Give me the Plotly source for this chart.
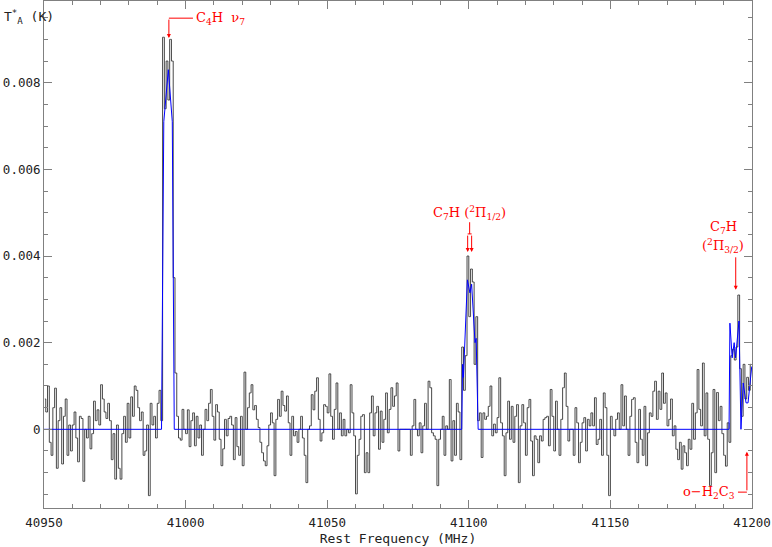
import numpy as np
import plotly.graph_objects as go

# ---------------- data (antenna temperature in mK) ----------------
f_start = 40950.0          # MHz, first channel edge
chan_width = 0.625         # MHz

seg_a = [0.7, 0.4, 1.0, -0.3, -0.6, 0.5, 0.95, -0.9, 0.2, 0.5,
         -0.8, 0.3, 0.7, -0.6, 0.1, -0.5, 0.1, 0.4, -0.2, -0.75,
         0.3, 0.25, -1.2, 0.0, -0.2, 0.3, -0.45, -0.1, 0.65, 0.2,
         0.45, 0.1, 1.03, 0.7, 0.4, 0.25, 0.6, 0.2, -0.7, -0.1,
         -1.15, 0.1, -0.9, -1.15, -0.1, 0.3, -0.3, 0.6, -0.2, 0.75,
         0.3, 1.0, 0.9, 0.5, 0.2, 0.4, -0.6, -0.5, 0.1, -1.53,
         0.6, 0.1, 0.3, -0.2, 0.6, 0.9, 0.2]
seg_c4h = [9.05, 7.4, 8.5, 7.6, 9.0, 8.5, 3.5, 1.3]
seg_b = [0.3, -0.2, -0.25, 0.46, 0.0, -0.1, 0.45, -0.4, 0.2, 0.38,
         -0.38, 0.3, -0.2, 0.1, -0.6, 0.0, 0.46, 0.2, 0.6, 0.92,
         0.3, -0.25, 0.57, 0.4, -0.23, -0.84, -0.45, 0.23, -0.15, 0.25,
         0.3, 0.1, -0.7, 0.27, -0.4, -0.6]
seg_c = [0.3, -0.84, 1.32, 0.0, 0.5, 0.84, 1.03, 0.45, 0.55, 0.23,
         0.04, -0.3, -0.54, -0.73, -0.84, -0.38, 0.1, 0.38, 0.15, -1.07,
         0.23, 0.69, 0.3, 0.88, 0.55, 0.42, 0.77, 0.15, -0.6, 0.3,
         -0.15, -0.05, -0.3, 0.0, 0.3, -0.2, -0.6, -1.23, 0.0, 0.08,
         0.8, 0.45, 0.88, 1.19, 0.23, -0.27, -0.08, 0.57, 0.53, 0.38,
         1.28, 0.3, -0.23, 0.46, 1.07, 0.0, 0.38, -0.15, 0.23, -0.15,
         0.0, -0.08, 1.03, 0.38, -0.15, -1.49, -0.6, -0.23, 0.3, 0.34,
         -1.0, -0.54, -1.0, 0.38, 0.77, -0.15, 0.38, 0.53, -0.46, 0.42,
         -0.3, 0.23, 0.84, -0.08, 0.46, 0.96, 0.53, 0.77, 1.07, -0.5,
         0.0, 0.0, 0.0, 0.0, 0.0, 0.0, -0.6, 0.08, 0.69, 0.0,
         -0.15, 0.15, -0.54, 0.08, 0.6, 0.0, 1.11, 0.96, -0.08, -0.15,
         -0.23, -1.3, -0.23, 0.0, 0.3, -0.6, 0.08, 0.0, 1.15]
seg_d = [-0.73, 0.2, -0.6, 0.6, 0.4, -0.7]
seg_c7h_a = [1.9, 0.9, 1.7, 4.0, 2.6, 3.7, 3.4, 1.5, 2.6, 0.2]
seg_e = [0.38, -0.65, 0.38, 0.23, 0.3, 0.53, 1.0, -0.15, 0.12, -0.08,
         0.27, 1.19, 0.15, -0.15, -1.07, -0.08, 0.65, -0.23, 0.53, -0.3,
         0.3, 0.57, -1.23, 0.08, 0.57, 0.15, -0.6, 0.5, 0.69, -0.27,
         -1.07, -0.15, -0.23, -0.77, -0.15, -0.27, 0.23, 0.27, 0.3, -0.38,
         0.92, 0.3, -0.5, 0.65, 0.0, -0.6, 0.23, 0.96, 1.3, 0.53,
         -0.27, 0.0, 0.0, -0.6, 0.5, 0.15, -0.77, -0.3, 0.15, 0.27,
         -0.5, 0.23, 0.08, 0.38, 0.08, 0.73, -0.35, -0.23, 0.23, -0.6,
         0.84, 0.5, -0.6, -1.53, 0.3, 0.0, -0.15, 0.23, 0.38, 0.0,
         1.03, 0.08, 0.77, 0.0, -0.6, 0.3, 0.69, 0.73, -0.3, -0.77,
         0.46, -0.23, -0.6, 0.53, -0.84, -0.08, 0.38, 0.3, 0.88, 1.11,
         0.23]
seg_f = [0.88, 0.46, 1.3, 0.6, 0.84, 0.08, 0.23, 0.7, -0.15, 0.08,
         -0.46, -0.7, -0.3, -0.92, -0.38, -0.54, -0.84, -0.23, -0.46, 0.6,
         -0.23, 0.38, 1.38, 0.46, 0.08, 1.53, -0.15, 0.84, -0.23, -1.3,
         -0.54, 0.92, -1.0]
seg_g = [0.85, 0.2, 0.53, -0.1, -0.6, -0.85, 0.15, -0.3]
seg_c7h_b = [1.7, 1.85, 1.6, 1.9, 3.1, 1.4, 0.3, 1.5, 0.7, 1.2, 0.9, 1.5]

t_mk = seg_a + seg_c4h + seg_b + seg_c + seg_d + seg_c7h_a + seg_e + seg_f + seg_g + seg_c7h_b
freq = f_start + chan_width * (np.arange(len(t_mk)) + 0.5)
t_k = np.array(t_mk) * 1e-3

# model fit (blue)
model_freq = [40950.0, 40991.5, 40992.3, 40993.9, 40995.3, 40996.0,
              41097.5, 41097.8, 41098.1, 41099.5, 41100.4, 41101.0, 41102.2, 41102.6, 41103.3,
              41191.9, 41192.2, 41193.0, 41193.7, 41194.2, 41195.4, 41196.1, 41196.9,
              41197.9, 41198.6, 41199.9]
model_mk = [0.0, 0.0, 7.1, 8.3, 7.1, 0.0,
            0.0, 1.5, 1.2, 3.45, 3.15, 3.35, 2.0, 2.1, 0.0,
            0.0, 2.45, 1.65, 2.0, 1.65, 2.5, 0.0, 1.07,
            0.61, 0.61, 1.45]
model_k = np.array(model_mk) * 1e-3

# line identifications (MHz)
c4h_freq = 40994.1
c7h_half_freqs = [41099.6, 41101.0]
c7h_threehalf_freq = 41194.25
h2c3_freq = 41198.2

x_tick_vals = [40950, 41000, 41050, 41100, 41150, 41200]
x_tick_text = ["40950", "41000", "41050", "41100", "41150", "41200"]
y_tick_vals = [0, 0.002, 0.004, 0.006, 0.008]
y_tick_text = ["0", "0.002", "0.004", "0.006", "0.008"]

# ---------------- figure ----------------
fig = go.Figure()
fig.add_trace(go.Scatter(x=freq, y=t_k, mode="lines", line=dict(color="#333333", width=0.9, shape="hvh"),
                         hoverinfo="skip", showlegend=False))
fig.add_trace(go.Scatter(x=model_freq, y=model_k, mode="lines", line=dict(color="#0000ff", width=1),
                         hoverinfo="skip", showlegend=False))

RED = "#ff0000"
FONT_RED = dict(family="DejaVu Serif", size=13, color=RED)
ann = []
shapes = []

# C4H nu7
ann.append(dict(x=c4h_freq, y=0.00903, xref="x", yref="y", text="", showarrow=True,
                ax=0, ay=-20, arrowhead=2, arrowsize=0.8, arrowwidth=1, arrowcolor=RED))
shapes.append(dict(type="line", xref="x", yref="y", x0=c4h_freq, x1=c4h_freq + 8.5,
                   y0=0.00949, y1=0.00949, line=dict(color=RED, width=1)))
ann.append(dict(x=c4h_freq + 8.8, y=0.00949, xref="x", yref="y", xanchor="left", yanchor="middle",
                text="C<sub>4</sub>H  ν<sub>7</sub>", showarrow=False, font=FONT_RED))

# C7H 2Pi1/2
mid = 0.5 * (c7h_half_freqs[0] + c7h_half_freqs[1])
ann.append(dict(x=mid - 0.1, y=0.00499, xref="x", yref="y", xanchor="center", yanchor="middle",
                text="C<sub>7</sub>H (<sup>2</sup>Π<sub>1/2</sub>)", showarrow=False, font=FONT_RED))
shapes.append(dict(type="line", xref="x", yref="y", x0=mid, x1=mid, y0=0.00478, y1=0.00451,
                   line=dict(color=RED, width=1)))
shapes.append(dict(type="line", xref="x", yref="y", x0=c7h_half_freqs[0], x1=c7h_half_freqs[1],
                   y0=0.00451, y1=0.00451, line=dict(color=RED, width=1)))
for f in c7h_half_freqs:
    ann.append(dict(x=f, y=0.00409, xref="x", yref="y", text="", showarrow=True,
                    ax=0, ay=-18, arrowhead=2, arrowsize=0.8, arrowwidth=1, arrowcolor=RED))

# C7H 2Pi3/2
ann.append(dict(x=41189.9, y=0.00465, xref="x", yref="y", xanchor="center", yanchor="middle",
                text="C<sub>7</sub>H", showarrow=False, font=FONT_RED))
ann.append(dict(x=41189.9, y=0.00423, xref="x", yref="y", xanchor="center", yanchor="middle",
                text="(<sup>2</sup>Π<sub>3/2</sub>)", showarrow=False, font=FONT_RED))
ann.append(dict(x=c7h_threehalf_freq, y=0.00322, xref="x", yref="y", text="", showarrow=True,
                ax=0, ay=-34, arrowhead=2, arrowsize=0.8, arrowwidth=1, arrowcolor=RED))

# o-H2C3
ann.append(dict(x=41194.7, y=-0.00145, xref="x", yref="y", xanchor="right", yanchor="middle",
                text="o−H<sub>2</sub>C<sub>3</sub>", showarrow=False, font=FONT_RED))
shapes.append(dict(type="line", xref="x", yref="y", x0=41195.05, x1=h2c3_freq,
                   y0=-0.00145, y1=-0.00145, line=dict(color=RED, width=1)))
ann.append(dict(x=h2c3_freq, y=-0.00052, xref="x", yref="y", text="", showarrow=True,
                ax=0, ay=40, arrowhead=2, arrowsize=0.8, arrowwidth=1, arrowcolor=RED))

# y-axis label
ann.append(dict(x=0, y=1, xref="paper", yref="paper", xshift=-42, yshift=-5,
                xanchor="left", yanchor="top", showarrow=False,
                text="T<sup>*</sup><sub>A</sub> (K)",
                font=dict(family="DejaVu Sans Mono", size=13, color="#222")))

AX = "#808080"
TICKFONT = dict(family="DejaVu Sans Mono", size=12.5, color="#222")
fig.update_layout(
    width=772, height=547,
    margin=dict(l=44, r=20, t=1, b=39),
    paper_bgcolor="white", plot_bgcolor="white",
    annotations=ann, shapes=shapes,
    xaxis=dict(range=[40950, 41200], showgrid=False, zeroline=False,
               showline=True, linecolor=AX, linewidth=1, mirror="ticks",
               ticks="inside", ticklen=8, tickcolor=AX, tickwidth=1,
               tickmode="array", tickvals=x_tick_vals, ticktext=x_tick_text,
               ticklabelstandoff=3,
               minor=dict(tickmode="linear", tick0=40950, dtick=10, ticks="inside",
                          ticklen=4, tickcolor=AX, showgrid=False),
               tickfont=TICKFONT, automargin=False,
               title=dict(text="Rest Frequency (MHz)", standoff=4,
                          font=dict(family="DejaVu Sans Mono", size=13, color="#222"))),
    yaxis=dict(range=[-0.001816, 0.009886], showgrid=False, zeroline=False,
               showline=True, linecolor=AX, linewidth=1, mirror="ticks",
               ticks="inside", ticklen=8, tickcolor=AX, tickwidth=1,
               tickmode="array", tickvals=y_tick_vals, ticktext=y_tick_text,
               minor=dict(tickmode="linear", tick0=0, dtick=0.0005, ticks="inside",
                          ticklen=4, tickcolor=AX, showgrid=False),
               tickfont=TICKFONT, automargin=False),
)

fig.write_html("out.html", config={"displayModeBar": False},
               post_script="document.body.style.margin='0';document.body.style.overflow='hidden';")
